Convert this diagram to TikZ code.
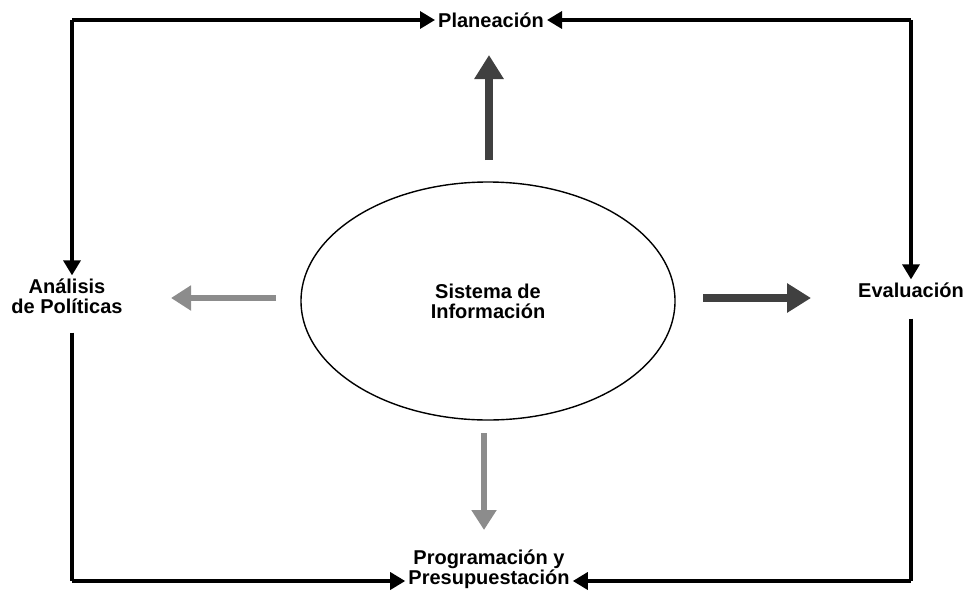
\documentclass[tikz,border=0pt]{standalone}
\usepackage{fontspec}
\setmainfont{Liberation Sans}
\usetikzlibrary{arrows.meta,shapes.geometric}
\begin{document}
\begin{tikzpicture}[x=1pt,y=-1pt,
  lbl/.style={font=\fontsize{20}{20}\selectfont\bfseries, align=center, inner sep=3pt},
  conn/.style={line width=3.4pt, -{Triangle[length=15pt,width=17pt]}},
  link/.style={line width=3.4pt},
  fat/.style={line width=8pt, draw=black!75, -{Triangle[length=24pt,width=28pt]}},
  faint/.style={line width=6pt, draw=black!45, -{Triangle[length=20pt,width=24pt]}}]
\useasboundingbox (0,0) rectangle (968,602);
% nodes
\node[lbl] (plan) at (491,20) {Planeación};
\node[lbl] (anal) at (67,296) {Análisis\\de Políticas};
\node[lbl] (eval) at (911,290) {Evaluación};
\node[lbl] (prog) at (489,569) {Programación y\\Presupuestación};
\node[ellipse, draw, line width=1.4pt, minimum width=374pt, minimum height=238pt,
      lbl] (info) at (488,301) {Sistema de\\Información};
% corners
\coordinate (tl) at (72,20);
\coordinate (tr) at (911,20);
\coordinate (bl) at (72,581);
\coordinate (br) at (911,581);
% outer connectors
\draw[conn] (tl) -- (plan.west |- tl);
\draw[conn] (tl) -- (tl |- anal.north);
\draw[conn] (tr) -- (plan.east |- tr);
\draw[conn] (tr) -- (tr |- eval.north);
\draw[link] ([yshift=-16pt]anal.south -| bl) -- (bl);
\draw[conn] (bl) -- (prog.west |- bl);
\draw[link] ([yshift=-18pt]eval.south -| br) -- (br);
\draw[conn] (br) -- (prog.east |- br);
% inner arrows
\coordinate (u0) at (489,160); \coordinate (u1) at (489,55);
\coordinate (l0) at (276,298); \coordinate (l1) at (171,298);
\coordinate (r0) at (703,298); \coordinate (r1) at (811,298);
\coordinate (d0) at (484,433); \coordinate (d1) at (484,530);
\draw[fat] (u0) -- (u1);
\draw[faint] (l0) -- (l1);
\draw[fat] (r0) -- (r1);
\draw[faint] (d0) -- (d1);
\end{tikzpicture}
\end{document}
